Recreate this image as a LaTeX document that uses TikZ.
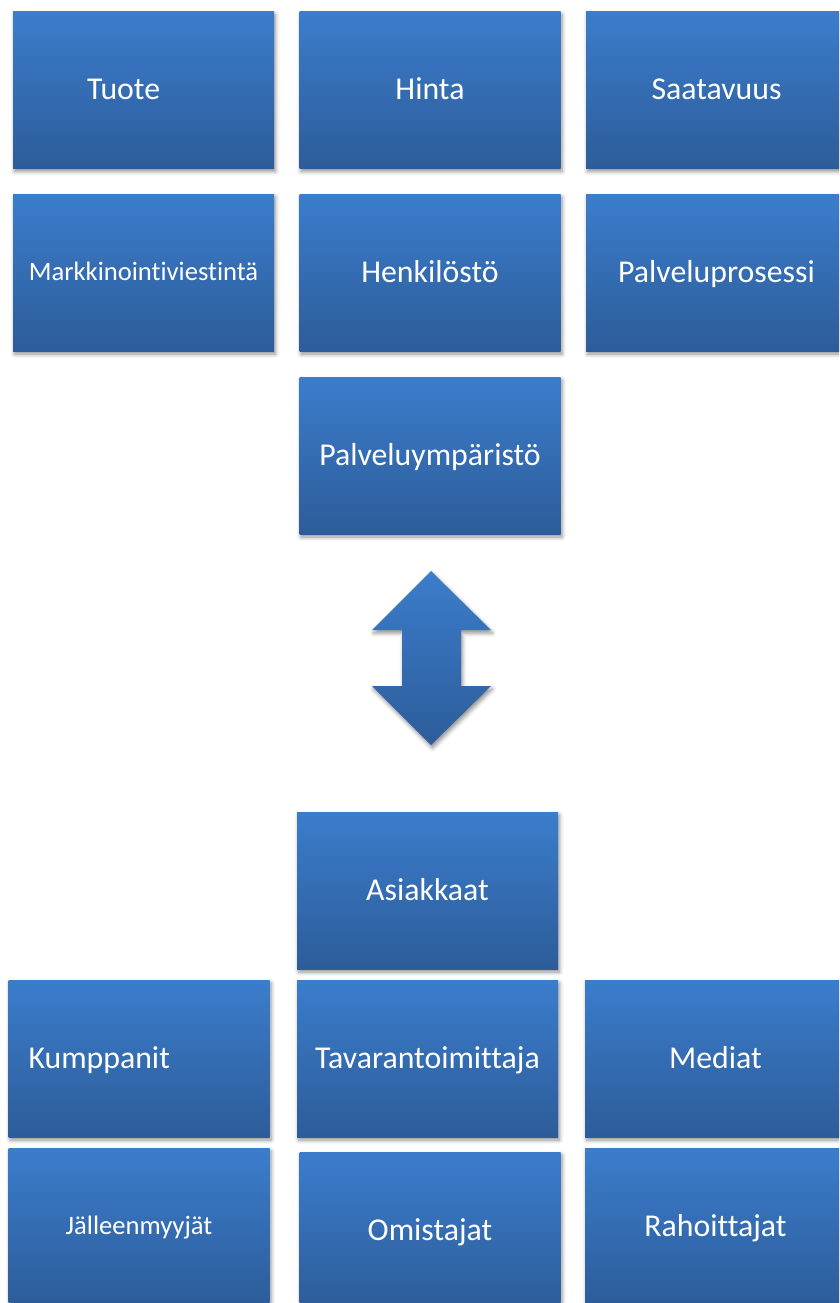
\documentclass[tikz,border=0pt]{standalone}
\usepackage{fontspec}
\setmainfont{Carlito}[Ligatures=NoCommon]
\usetikzlibrary{shadows.blur}
\definecolor{boxtop}{RGB}{59,125,204}
\definecolor{boxbottom}{RGB}{45,92,153}
\begin{document}
\begin{tikzpicture}[x=1pt,y=-1pt,
	box/.style={rectangle,minimum width=261pt,minimum height=157pt,inner sep=0pt,
		top color=boxtop,bottom color=boxbottom,text=white,
		font=\fontsize{31.8}{36}\selectfont,text height=22pt,text depth=3pt,
		blur shadow={shadow xshift=1.5pt,shadow yshift=-3pt,shadow blur radius=4pt,shadow opacity=45}},
	smalltext/.style={font=\fontsize{26.6}{30}\selectfont,text height=18pt,text depth=3pt},
	lefttext/.style={inner xsep=#1,align=left}]
	\useasboundingbox (0,0) rectangle (839,1303);
	\clip (0,0) rectangle (839,1303);
	% marketing mix
	\node[box,lefttext=74pt,text width=113pt] (tuote) at (143.5,90) {Tuote};
	\node[box] (hinta) at (430,90) {Hinta};
	\node[box] (saatavuus) at (716.5,90) {Saatavuus};
	\node[box,smalltext] (viestinta) at (143.5,272.5) {Markkinointiviestintä};
	\node[box] (henkilosto) at (430,272.5) {Henkilöstö};
	\node[box] (prosessi) at (716.5,272.5) {Palveluprosessi};
	\node[box] (ymparisto) at (430,455.5) {Palveluympäristö};
	% double arrow
	\shade[top color=boxtop,bottom color=boxbottom,
		blur shadow={shadow xshift=1.5pt,shadow yshift=-3pt,shadow blur radius=4pt,shadow opacity=45}]
		(431,571) -- (491,630) -- (461,630) -- (461,686) -- (491,686) -- (431,745)
		-- (372,686) -- (402,686) -- (402,630) -- (372,630) -- cycle;
	% stakeholders
	\node[box] (asiakkaat) at (427.5,890.5) {Asiakkaat};
	\node[box,lefttext=20pt,text width=221pt] (kumppanit) at (139,1058.5) {Kumppanit};
	\node[box] (toimittaja) at (427.5,1058.5) {Tavarantoimittaja};
	\node[box] (mediat) at (715.5,1058.5) {Mediat};
	\node[box,smalltext] (jalleenmyyjat) at (139,1226.5) {Jälleenmyyjät};
	\node[box] (omistajat) at (430,1230.5) {Omistajat};
	\node[box] (rahoittajat) at (715.5,1226.5) {Rahoittajat};
\end{tikzpicture}
\end{document}
